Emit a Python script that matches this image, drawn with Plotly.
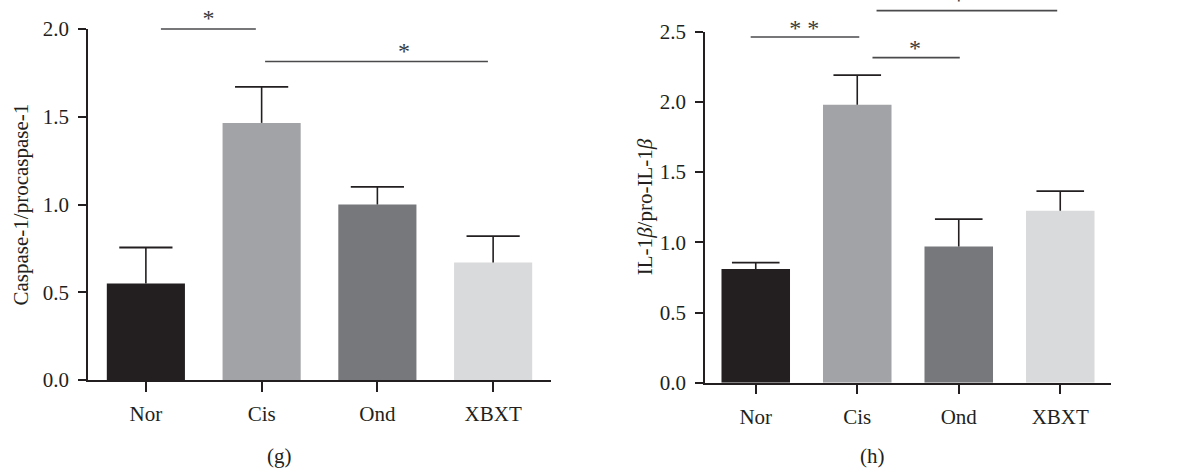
import plotly.graph_objects as go

# ---- data -------------------------------------------------------------
groups = ["Nor", "Cis", "Ond", "XBXT"]
bar_colors = ["#231f20", "#a2a3a7", "#77787c", "#d9dadc"]

casp_mean = [0.55, 1.465, 1.0, 0.67]
casp_err = [0.205, 0.205, 0.10, 0.15]

il1b_mean = [0.81, 1.98, 0.97, 1.225]
il1b_err = [0.045, 0.21, 0.195, 0.14]

casp_ticks = [0.0, 0.5, 1.0, 1.5, 2.0]
il1b_ticks = [0.0, 0.5, 1.0, 1.5, 2.0, 2.5]

# significance brackets: (start, end, height) in category / value units
casp_brackets = [(0.13, 0.95, 2.0), (1.03, 2.955, 1.815)]
casp_stars = [(0.54, 2.05, "*"), (2.23, 1.865, "*")]

il1b_brackets = [(-0.05, 1.02, 2.462), (1.15, 2.01, 2.315), (1.19, 2.97, 2.65)]
il1b_stars = [(0.477, 2.51, "* *"), (1.57, 2.37, "*"), (2.0, 2.71, "*")]

# ---- styling ----------------------------------------------------------
W, H = 1186, 475
INK = "#231f20"
FONT = "Liberation Serif"
CLEAR = "rgba(0,0,0,0)"
pos = list(range(len(groups)))

fig = go.Figure()

panels = [
    dict(mean=casp_mean, err=casp_err, ticks=casp_ticks, brackets=casp_brackets,
         stars=casp_stars, cap=19, xdom=(88, 551), ydom=(380, 29),
         title="Caspase-1/procaspase-1", title_x=20, caption="(g)", n=""),
    dict(mean=il1b_mean, err=il1b_err, ticks=il1b_ticks, brackets=il1b_brackets,
         stars=il1b_stars, cap=17, xdom=(705, 1111), ydom=(382.7, 31.7),
         title="IL-1<i>β</i>/pro-IL-1<i>β</i>", title_x=645, caption="(h)", n="2"),
]

layout_axes = {}
annotations = []
for i, p in enumerate(panels):
    xa, ya = "x" + p["n"], "y" + p["n"]
    ov = str(3 + 2 * i)
    xo, yo = "x" + ov, "y" + ov

    # bars with an upward-only error stem
    fig.add_trace(go.Bar(
        x=pos, y=p["mean"], width=0.675,
        marker=dict(color=bar_colors, line=dict(width=0)),
        error_y=dict(type="data", symmetric=False, array=p["err"],
                     arrayminus=[0] * len(pos), color=INK, thickness=1.6, width=0),
        xaxis=xa, yaxis=ya, showlegend=False, hoverinfo="skip",
    ))
    # cap on top of each stem
    fig.add_trace(go.Scatter(
        x=pos, y=[m + e for m, e in zip(p["mean"], p["err"])], mode="markers",
        marker=dict(symbol="line-ew", size=2 * p["cap"], color=INK,
                    line=dict(color=INK, width=1.8)),
        cliponaxis=False, xaxis=xa, yaxis=ya, showlegend=False, hoverinfo="skip",
    ))

    for x0, x1, yv in p["brackets"]:
        fig.add_trace(go.Scatter(
            x=[x0, x1], y=[yv, yv], mode="lines",
            line=dict(color="#4a4a4c", width=1.6),
            xaxis=xo, yaxis=yo, showlegend=False, hoverinfo="skip",
        ))
    fig.add_trace(go.Scatter(
        x=[s[0] for s in p["stars"]], y=[s[1] for s in p["stars"]],
        text=[s[2] for s in p["stars"]], mode="text", textposition="middle center",
        textfont=dict(family=FONT, size=24, color="#3a3a3c"), cliponaxis=False,
        xaxis=xo, yaxis=yo, showlegend=False, hoverinfo="skip",
    ))

    x_dom = [p["xdom"][0] / W, p["xdom"][1] / W]
    y_dom = [(H - p["ydom"][0]) / H, (H - p["ydom"][1]) / H]
    ymax = p["ticks"][-1]
    ext = ymax * (1 - y_dom[0]) / (y_dom[1] - y_dom[0])

    key = p["n"]
    layout_axes["xaxis" + key] = dict(
        domain=x_dom, range=[-0.5, len(groups) - 0.5], anchor=ya,
        tickvals=pos, ticktext=groups, showline=True, linecolor=INK, linewidth=1.5,
        ticks="outside", ticklen=10, tickwidth=1.5, tickcolor=INK,
        showgrid=False, zeroline=False, ticklabelstandoff=4,
        tickfont=dict(family=FONT, size=21, color=INK),
    )
    layout_axes["yaxis" + key] = dict(
        domain=y_dom, range=[0, ymax], anchor=xa,
        tickvals=p["ticks"], ticktext=[f"{t:.1f}" for t in p["ticks"]],
        showline=True, linecolor=INK, linewidth=1.5,
        ticks="outside", ticklen=8, tickwidth=1.5, tickcolor=INK,
        showgrid=False, zeroline=False, ticklabelstandoff=5,
        tickfont=dict(family=FONT, size=21, color=INK),
    )
    layout_axes["xaxis" + ov] = dict(domain=x_dom, range=[-0.5, len(groups) - 0.5],
                                     anchor=yo, visible=False)
    layout_axes["yaxis" + ov] = dict(domain=[y_dom[0], 1.0], range=[0, ext],
                                     anchor=xo, visible=False)

    annotations.append(dict(
        text=p["title"], xref="paper", x=p["title_x"] / W, xanchor="center",
        yref=ya + " domain", y=0.5, yanchor="middle", textangle=-90,
        showarrow=False, font=dict(family=FONT, size=21, color=INK),
    ))
    annotations.append(dict(
        text=p["caption"], xref=xa + " domain", x=0.413, xanchor="center",
        yref="paper", y=(H - 456) / H, yanchor="middle",
        showarrow=False, font=dict(family=FONT, size=21, color=INK),
    ))

fig.update_layout(
    width=W, height=H, margin=dict(l=0, r=0, t=0, b=0, autoexpand=False),
    paper_bgcolor="white", plot_bgcolor=CLEAR,
    annotations=annotations, **layout_axes,
)

fig.write_html("out.html")
